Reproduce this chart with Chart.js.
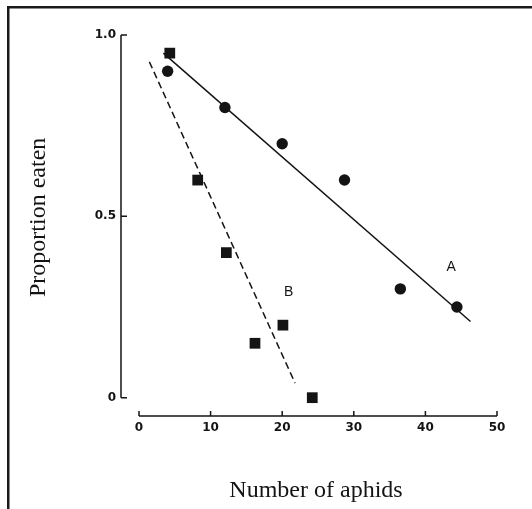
<!DOCTYPE html>
<html><head><meta charset="utf-8">
<script src="https://cdn.jsdelivr.net/npm/chart.js@4.4.0/dist/chart.umd.min.js"></script>
<style>html,body{margin:0;padding:0;background:#fff;}#wrap{width:532px;height:509px;position:relative;}</style>
</head><body><div id="wrap"><canvas id="c" width="532" height="509"></canvas></div>
<script>
// ---- data ----
const xTicks = [0, 10, 20, 30, 40, 50];
const yTicks = [0, 0.5, 1.0];
const yTickLabels = ['0', '0.5', '1.0'];
const aphidsA = [4, 12, 20, 28.7, 36.5, 44.4];
const eatenA  = [0.9, 0.8, 0.7, 0.6, 0.3, 0.25];
const aphidsB = [4.3, 8.2, 12.2, 16.2, 20.1, 24.2];
const eatenB  = [0.95, 0.6, 0.4, 0.15, 0.2, 0.0];
const fitAx = [3.4, 46.3];
const fitAy = [0.95, 0.21];
const fitBx = [1.45, 21.8];
const fitBy = [0.926, 0.04];
const seriesLabels = ['A', 'B'];
const seriesLabelX = [43.6, 20.9];
const seriesLabelY = [0.36, 0.29];
const xTitle = 'Number of aphids';
const yTitle = 'Proportion eaten';

const ink = '#141414';
const titleFont = '24px "Liberation Serif", "Times New Roman", serif';
const pts = (xs, ys) => xs.map((v, i) => ({x: v, y: ys[i]}));

const customAxes = {
  id: 'customAxes',
  beforeDraw(chart) {
    const ctx = chart.ctx;
    ctx.save();
    ctx.fillStyle = '#fff';
    ctx.fillRect(0, 0, chart.width, chart.height);
    ctx.fillStyle = '#1a1a1a';
    ctx.fillRect(7, 6, chart.width - 7, 2.5);
    ctx.fillRect(7, 6, 2.5, chart.height - 6);
    ctx.restore();
  },
  afterDraw(chart) {
    const {ctx, chartArea, scales: {x, y}} = chart;
    ctx.save();
    ctx.strokeStyle = ink;
    ctx.lineWidth = 1.5;
    // y axis
    const ax = chartArea.left - 1;
    const yTop = y.getPixelForValue(yTicks[yTicks.length - 1]);
    const yBot = y.getPixelForValue(yTicks[0]);
    ctx.beginPath();
    ctx.moveTo(ax, yTop); ctx.lineTo(ax, yBot);
    yTicks.forEach(v => { const p = y.getPixelForValue(v); ctx.moveTo(ax, p); ctx.lineTo(ax + 6, p); });
    ctx.stroke();
    // x axis
    const ay = chartArea.bottom;
    const xL = x.getPixelForValue(xTicks[0]);
    const xR = x.getPixelForValue(xTicks[xTicks.length - 1]);
    ctx.beginPath();
    ctx.moveTo(xL, ay); ctx.lineTo(xR, ay);
    xTicks.forEach(v => { const p = x.getPixelForValue(v); ctx.moveTo(p, ay); ctx.lineTo(p, ay - 5); });
    ctx.stroke();
    // series letters
    ctx.fillStyle = ink;
    ctx.font = '14px "Liberation Sans", Arial, sans-serif';
    ctx.textAlign = 'center';
    ctx.textBaseline = 'middle';
    seriesLabels.forEach((t, i) => {
      ctx.fillText(t, x.getPixelForValue(seriesLabelX[i]), y.getPixelForValue(seriesLabelY[i]));
    });
    // axis titles
    ctx.font = titleFont;
    ctx.fillText(xTitle, (xL + xR) / 2 - 2, chart.height - 18);
    ctx.save();
    ctx.translate(39, (yTop + yBot) / 2 + 1);
    ctx.rotate(-Math.PI / 2);
    ctx.fillText(yTitle, 0, 0);
    ctx.restore();
    ctx.restore();
  }
};

new Chart(document.getElementById('c'), {
  type: 'scatter',
  data: {
    datasets: [
      {label: 'A', data: pts(aphidsA, eatenA), pointStyle: 'circle', pointRadius: 5.7, pointHoverRadius: 5.7,
       backgroundColor: ink, borderColor: ink, borderWidth: 0},
      {label: 'B', data: pts(aphidsB, eatenB), pointStyle: 'rect', pointRadius: 7.6, pointHoverRadius: 7.6,
       backgroundColor: ink, borderColor: ink, borderWidth: 0},
      {label: 'fit A', data: pts(fitAx, fitAy), showLine: true, pointRadius: 0, borderColor: ink, borderWidth: 1.5},
      {label: 'fit B', data: pts(fitBx, fitBy), showLine: true, pointRadius: 0, borderColor: ink, borderWidth: 1.5,
       borderDash: [7, 4]}
    ]
  },
  options: {
    responsive: false,
    animation: false,
    devicePixelRatio: 1,
    layout: {padding: {top: 35, right: 35, left: 0, bottom: 0}},
    plugins: {legend: {display: false}, tooltip: {enabled: false}},
    scales: {
      x: {
        type: 'linear', min: -2.374, max: 50,
        afterBuildTicks: s => { s.ticks = xTicks.map(v => ({value: v})); },
        afterFit: s => { s.height = 93; },
        grid: {display: false, drawTicks: false},
        border: {display: false},
        ticks: {padding: 5, color: ink, font: {family: '"DejaVu Sans", sans-serif', size: 12, weight: 'bold'}},
        title: {display: false}
      },
      y: {
        type: 'linear', min: -0.0505, max: 1.0,
        afterBuildTicks: s => { s.ticks = yTicks.map(v => ({value: v})); },
        afterFit: s => { s.width = 122; },
        grid: {display: false, drawTicks: false},
        border: {display: false},
        ticks: {padding: 6, color: ink, font: {family: '"DejaVu Sans", sans-serif', size: 12, weight: 'bold'},
                callback: v => yTickLabels[yTicks.indexOf(v)]},
        title: {display: false}
      }
    }
  },
  plugins: [customAxes]
});
</script></body></html>
